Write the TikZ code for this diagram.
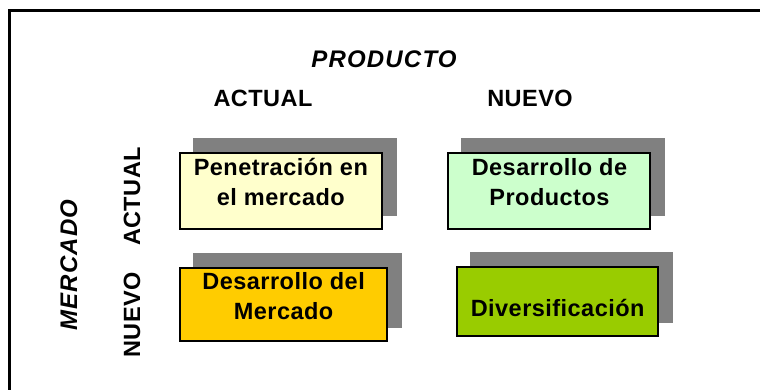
\documentclass[tikz,border=0pt]{standalone}
\usepackage{fontspec}
\setmainfont{Liberation Sans}
\newfontfamily\quadfont[LetterSpace=2]{Liberation Sans}
\newfontfamily\headfont[LetterSpace=2]{Liberation Sans}
\newfontfamily\axisfont[LetterSpace=5]{Liberation Sans}
\usepackage{tikz}
\usetikzlibrary{positioning}
\usetikzlibrary{shadows}
\definecolor{shd}{RGB}{128,128,128}
\definecolor{pale}{RGB}{255,255,204}
\definecolor{mint}{RGB}{204,255,204}
\definecolor{gold}{RGB}{255,204,0}
\definecolor{lime}{RGB}{153,204,0}

\begin{document}
\begin{tikzpicture}[x=1pt, y=1pt,
    main/.style = {rectangle, draw=black, line width=2pt, minimum width=202pt, minimum height=76pt,
        inner sep=0pt, align=center, text height=45pt, text depth=15pt,
        font=\quadfont\bfseries\fontsize{23.5}{30}\selectfont,
        drop shadow={shadow xshift=14pt, shadow yshift=14pt, fill=shd, draw=shd, opacity=1}},
    head/.style = {anchor=base, font=\headfont\bfseries\fontsize{23.5}{28}\selectfont},
    axis/.style = {anchor=base, font=\axisfont\bfseries\itshape\fontsize{24}{28}\selectfont}]
        \useasboundingbox (0,0) rectangle (760,390);
        \draw[line width=3pt] (9.5,0) -- (9.5,379.5) -- (760,379.5);
        \node[axis] (prod) at (384,322.7) {PRODUCTO};
        \node[head] (pa) at (263,283.3) {ACTUAL};
        \node[head] (pn) at (530,283.3) {NUEVO};
        \node[axis, rotate=90] (merc) at (77,125) {MERCADO};
        \node[head, rotate=90] (ma) at (140,193.5) {ACTUAL};
        \node[head, rotate=90] (mn) at (140,75) {NUEVO};
        \node[main, fill=pale] (1) at (280.85,199.15) {Penetración en\\el mercado};
        \node[main, fill=mint] (2) [right=64.6pt of 1] {Desarrollo de\\Productos};
        \node[main, fill=gold, minimum width=207pt, minimum height=73pt] (3) [below=36.7pt of 1, xshift=2.8pt] {Desarrollo del\\Mercado};
        \node[main, fill=lime, minimum width=201pt, minimum height=69pt] (4) [below=35.7pt of 2, xshift=8.2pt] {\mbox{}\\Diversificación}; % blank first line
\end{tikzpicture}
\end{document}
